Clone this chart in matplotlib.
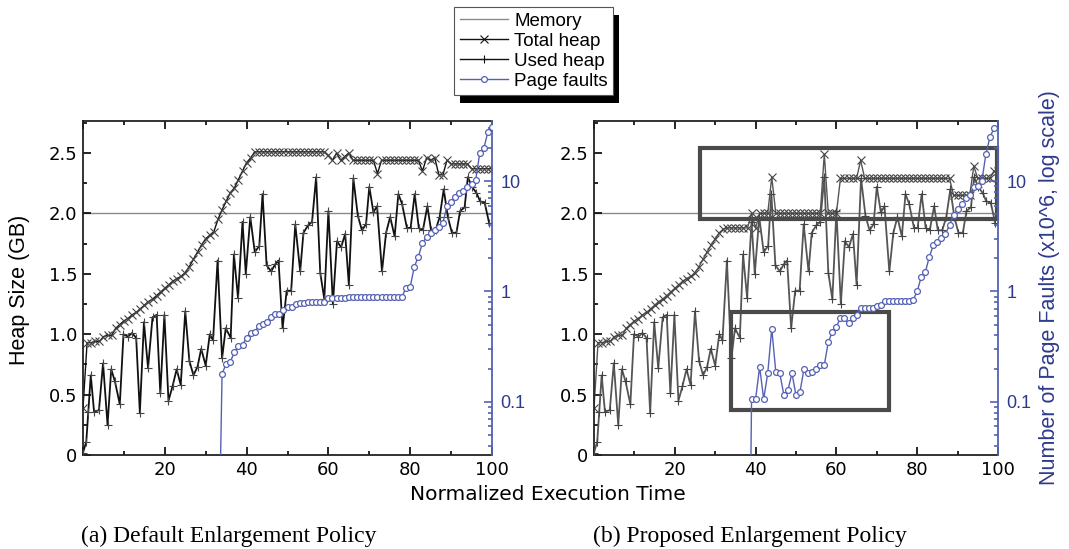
import matplotlib
matplotlib.use("Agg")
import matplotlib.pyplot as plt
from matplotlib.lines import Line2D
from matplotlib.patches import Rectangle
from matplotlib.ticker import MultipleLocator, FixedLocator, LogLocator, NullFormatter

# ---------------- data ----------------
USED_T = [0.0, 0.8, 1.3, 1.9, 2.7, 3.9, 4.9, 6.0, 6.9, 7.8, 9.0, 9.9, 11.0, 12.0, 13.0,
          13.9, 14.9, 15.9, 17.0, 18.0, 18.9, 19.9, 20.9, 21.9, 22.9, 23.9, 25.0, 26.0,
          27.0, 28.0, 28.9, 30.0, 31.0, 31.8, 32.9, 34.0, 34.9, 36.1, 36.9, 37.9, 39.0,
          39.8, 40.9, 42.0, 43.1, 43.9, 44.9, 46.0, 47.0, 47.8, 48.8, 49.8, 50.9, 51.9,
          53.1, 53.9, 55.0, 56.0, 57.0, 58.0, 59.0, 60.0, 61.1, 62.1, 63.1, 64.1, 65.0,
          66.1, 67.2, 68.2, 69.2, 70.0, 71.0, 71.9, 73.1, 74.1, 75.1, 76.2, 77.1, 78.0,
          79.2, 80.1, 81.1, 82.1, 83.1, 84.2, 85.1, 86.2, 87.2, 88.2, 89.2, 90.2, 91.3,
          92.2, 93.3, 94.1, 95.1, 96.2, 97.1, 98.2, 99.3]
USED_HEAP = [0.02, 0.11, 0.36, 0.66, 0.36, 0.37, 0.76, 0.25, 0.71, 0.61, 0.42, 1.00, 0.98,
             1.01, 0.97, 0.35, 1.10, 0.72, 1.14, 1.16, 0.51, 1.16, 0.45, 0.57, 0.71, 0.58,
             1.19, 0.78, 0.66, 0.73, 0.88, 0.74, 1.00, 0.95, 1.61, 0.80, 1.05, 0.97, 1.66,
             1.30, 1.93, 1.50, 1.97, 1.68, 1.73, 2.16, 1.57, 1.52, 1.58, 1.61, 1.05, 1.36,
             1.36, 1.91, 1.52, 1.84, 1.90, 1.93, 2.30, 1.51, 1.29, 2.02, 1.25, 1.77, 1.72,
             1.83, 1.41, 2.29, 1.98, 1.86, 1.91, 2.22, 2.01, 2.06, 1.52, 1.84, 1.97, 1.81,
             2.16, 2.08, 1.88, 1.88, 2.16, 1.88, 1.86, 2.06, 1.86, 1.86, 1.97, 2.20, 1.97,
             1.84, 1.84, 2.02, 2.05, 2.30, 2.22, 2.17, 2.10, 2.09, 1.92]

TOTAL_T = list(range(0, 101))
TOTAL_HEAP_A = [0.39, 0.93, 0.93, 0.94, 0.94, 0.98, 0.99, 0.99, 1.05, 1.08,
                1.11, 1.13, 1.16, 1.18, 1.21, 1.24, 1.27, 1.29, 1.32, 1.35,
                1.38, 1.41, 1.44, 1.46, 1.48, 1.51, 1.56, 1.62, 1.68, 1.74,
                1.79, 1.82, 1.85, 1.95, 2.03, 2.10, 2.17, 2.21, 2.28, 2.35,
                2.42, 2.46, 2.51, 2.51, 2.51, 2.51, 2.51, 2.51, 2.51, 2.51,
                2.51, 2.51, 2.51, 2.51, 2.51, 2.51, 2.51, 2.51, 2.51, 2.51,
                2.48, 2.44, 2.50, 2.44, 2.47, 2.50, 2.44, 2.44, 2.44, 2.44,
                2.44, 2.44, 2.33, 2.44, 2.44, 2.44, 2.44, 2.44, 2.44, 2.44,
                2.44, 2.44, 2.44, 2.35, 2.46, 2.44, 2.46, 2.32, 2.32, 2.44,
                2.41, 2.41, 2.41, 2.41, 2.41, 2.37, 2.37, 2.37, 2.37, 2.37, 2.37]
TOTAL_HEAP_B = [0.39, 0.93, 0.93, 0.94, 0.94, 0.98, 0.99, 0.99, 1.05, 1.08,
                1.11, 1.13, 1.16, 1.18, 1.21, 1.24, 1.27, 1.29, 1.32, 1.35,
                1.38, 1.41, 1.44, 1.46, 1.48, 1.51, 1.56, 1.62, 1.68, 1.74,
                1.79, 1.84, 1.87, 1.88, 1.88, 1.88, 1.88, 1.88, 1.88, 2.00,
                1.88, 2.00, 2.00, 2.00, 2.30, 2.00, 2.00, 2.00, 2.00, 2.00,
                2.00, 2.00, 2.00, 2.00, 2.00, 2.00, 2.00, 2.49, 2.00, 2.00,
                2.00, 2.29, 2.29, 2.29, 2.29, 2.29, 2.44, 2.29, 2.29, 2.29,
                2.29, 2.29, 2.29, 2.29, 2.29, 2.29, 2.29, 2.29, 2.29, 2.29,
                2.29, 2.29, 2.29, 2.29, 2.29, 2.29, 2.29, 2.29, 2.29, 2.15,
                2.15, 2.15, 2.15, 2.15, 2.39, 2.29, 2.29, 2.29, 2.29, 2.35, 2.35]

MEMORY_GB = 2.0

PF_T_A = [33.4] + list(range(34, 101))
PAGE_FAULTS_A = [0.01,
                 0.18, 0.22, 0.23, 0.28, 0.32, 0.33, 0.38, 0.42, 0.43, 0.49,
                 0.51, 0.53, 0.59, 0.62, 0.63, 0.68, 0.72, 0.72, 0.77, 0.78,
                 0.78, 0.80, 0.80, 0.80, 0.80, 0.81, 0.88, 0.88, 0.88, 0.88,
                 0.88, 0.90, 0.90, 0.90, 0.90, 0.90, 0.90, 0.90, 0.90, 0.90,
                 0.90, 0.90, 0.90, 0.90, 0.90, 1.08, 1.10, 1.67, 2.07, 2.76,
                 3.10, 3.35, 3.60, 3.86, 4.20, 5.97, 6.50, 7.20, 7.80, 8.10,
                 8.90, 9.50, 10.2, 17.8, 19.8, 27.9, 31.0]
PF_T_B = [38.7] + list(range(39, 100))
PAGE_FAULTS_B = [0.01,
                 0.106, 0.106, 0.207, 0.106, 0.181, 0.46, 0.187, 0.181, 0.115, 0.128,
                 0.181, 0.115, 0.124, 0.20, 0.181, 0.188, 0.20, 0.215, 0.215, 0.35,
                 0.43, 0.479, 0.577, 0.577, 0.513, 0.577, 0.61, 0.71, 0.71, 0.71,
                 0.71, 0.74, 0.76, 0.82, 0.82, 0.82, 0.82, 0.82, 0.82, 0.82,
                 0.84, 1.00, 1.36, 1.49, 2.06, 2.63, 2.82, 3.03, 3.31, 4.00,
                 4.90, 5.60, 6.20, 7.00, 7.50, 8.90, 9.10, 10.0, 17.5, 25.0, 30.0]

HEAP_TICKS = [0, 0.5, 1.0, 1.5, 2.0, 2.5]
HEAP_LABELS = ["0", "0.5", "1.0", "1.5", "2.0", "2.5"]
X_TICKS = [0, 20, 40, 60, 80, 100]
X_LABELS = ["", "20", "40", "60", "80", "100"]
PF_TICKS = [0.1, 1, 10]
PF_LABELS = ["0.1", "1", "10"]

LEGEND_LABELS = ["Memory", "Total heap", "Used heap", "Page faults"]
CAPTIONS = ["(a) Default Enlargement Policy", "(b) Proposed Enlargement Policy"]

# ---------------- style ----------------
NARROW = ["Liberation Sans Narrow", "DejaVu Sans"]
SANS = ["Liberation Sans", "DejaVu Sans"]
SERIF = ["Liberation Serif", "DejaVu Serif"]
BLUE_TXT = "#2e3a8c"
BLUE_LINE = "#5561b3"
MEM_COLOR = "#8a8a8a"

W, H = 1069, 549
fig = plt.figure(figsize=(W / 100, H / 100), dpi=100)
fig.patch.set_facecolor("white")


def frac(x0, y0, x1, y1):
    return [x0 / W, 1 - y1 / H, (x1 - x0) / W, (y1 - y0) / H]


def setup(ax, line_color, total, pf_t, pf):
    ax.set_xlim(0, 100)
    ax.set_ylim(0, 2.765)
    ax.axhline(MEMORY_GB, color=MEM_COLOR, lw=1.0, zorder=1)
    ax.plot(TOTAL_T, total, color=line_color, lw=1.0, marker="x", ms=5.5,
            mew=0.8, mec="#444444", zorder=2)
    ax.plot(USED_T, USED_HEAP, color=line_color, lw=1.3, marker="+", ms=5.5,
            mew=0.8, mec="#444444", zorder=3)
    ax.set_xticks(X_TICKS)
    ax.set_xticklabels(X_LABELS, family=NARROW, fontsize=13)
    ax.xaxis.set_minor_locator(MultipleLocator(10))
    ax.set_yticks(HEAP_TICKS)
    ax.set_yticklabels(HEAP_LABELS, family=NARROW, fontsize=13)
    ax.yaxis.set_minor_locator(MultipleLocator(0.25))
    ax.tick_params(which="both", direction="in", top=True, right=False, width=1.2)
    ax.tick_params(which="major", length=6, pad=4)
    ax.tick_params(which="minor", length=3)
    for s in ["left", "bottom", "top"]:
        ax.spines[s].set_linewidth(1.3)
        ax.spines[s].set_color("#222222")
    ax.spines["right"].set_visible(False)

    tw = ax.twinx()
    tw.set_yscale("log")
    tw.set_ylim(0.033, 35)
    tw.plot(pf_t, pf, color=BLUE_LINE, lw=1.0, marker="o", ms=4.2, mew=0.9,
            mfc="white", mec=BLUE_LINE, zorder=4)
    tw.yaxis.set_major_locator(FixedLocator(PF_TICKS))
    tw.set_yticklabels(PF_LABELS, family=SANS, fontsize=13, color=BLUE_TXT)
    tw.yaxis.set_minor_locator(LogLocator(base=10, subs=(2, 3, 4, 5, 6, 7, 8, 9)))
    tw.yaxis.set_minor_formatter(NullFormatter())
    tw.tick_params(which="both", direction="in", colors=BLUE_LINE, width=1.2)
    tw.tick_params(which="major", length=6, pad=6, labelcolor=BLUE_TXT)
    tw.tick_params(which="minor", length=3)
    for s in ["left", "bottom", "top"]:
        tw.spines[s].set_visible(False)
    tw.spines["right"].set_color(BLUE_LINE)
    tw.spines["right"].set_linewidth(1.3)
    return tw


axA = fig.add_axes(frac(83, 121, 492, 455))
axB = fig.add_axes(frac(594, 121, 998, 455))
setup(axA, "#111111", TOTAL_HEAP_A, PF_T_A, PAGE_FAULTS_A)
setup(axB, "#555555", TOTAL_HEAP_B, PF_T_B, PAGE_FAULTS_B)

# annotation boxes on panel (b)
axB.add_patch(Rectangle((26.2, 1.95), 73.6, 0.59, fill=False, ec="#4a4a4a",
                        lw=3, zorder=6, clip_on=False))
axB.add_patch(Rectangle((33.8, 0.37), 39.3, 0.81, fill=False, ec="#4a4a4a",
                        lw=3, zorder=6))

# texts
fig.text(20 / W, 1 - 290 / H, "Heap Size (GB)", rotation=90, ha="center",
         va="center", family=SANS, fontsize=15.5)
fig.text(1050 / W, 1 - 288 / H, "Number of Page Faults (x10^6, log scale)",
         rotation=90, ha="center", va="center", family=SANS, fontsize=15.5,
         color=BLUE_TXT)
fig.text(548 / W, 1 - 494 / H, "Normalized Execution Time", ha="center",
         va="center", family=NARROW, fontsize=14.5)
fig.text(229 / W, 1 - 536 / H, CAPTIONS[0], ha="center", va="center",
         family=SERIF, fontsize=17)
fig.text(750 / W, 1 - 536 / H, CAPTIONS[1], ha="center", va="center",
         family=SERIF, fontsize=17)

# legend
handles = [
    Line2D([], [], color=MEM_COLOR, lw=1.0),
    Line2D([], [], color="#111111", lw=1.0, marker="x", ms=6, mew=0.8),
    Line2D([], [], color="#111111", lw=1.0, marker="+", ms=5.5, mew=0.8),
    Line2D([], [], color=BLUE_LINE, lw=1.0, marker="o", ms=4.2, mew=0.9,
           mfc="white", mec=BLUE_LINE),
]
leg = fig.legend(handles, LEGEND_LABELS, loc="upper left",
                 bbox_to_anchor=(454 / W, 1 - 7 / H), numpoints=1,
                 prop={"family": SANS, "size": 13.5}, fancybox=False,
                 frameon=True, edgecolor="#555555", framealpha=1,
                 handlelength=2.6, handletextpad=0.3, labelspacing=0.15,
                 borderpad=0.3, borderaxespad=0)
leg.get_frame().set_linewidth(0.8)
leg.set_zorder(10)

fig.canvas.draw()
bb = leg.get_window_extent().transformed(fig.transFigure.inverted())
dx, dy = 6 / W, 8 / H
fig.add_artist(Rectangle((bb.x0 + dx, bb.y0 - dy), bb.width, bb.height,
                         transform=fig.transFigure, facecolor="black",
                         edgecolor="none", zorder=9))

fig.savefig("out.png", dpi=100)
